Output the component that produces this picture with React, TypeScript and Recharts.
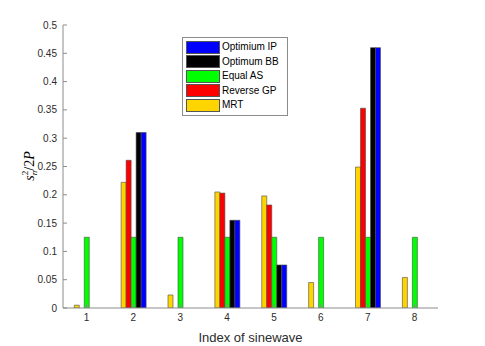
import { BarChart, Bar, XAxis, YAxis } from 'recharts';

const categories = ['1', '2', '3', '4', '5', '6', '7', '8'];
const mrt       = [0.005, 0.222, 0.023, 0.205, 0.198, 0.045, 0.249, 0.054];
const reverseGP = [0, 0.261, 0, 0.203, 0.182, 0, 0.353, 0];
const equalAS   = [0.125, 0.125, 0.125, 0.125, 0.125, 0.125, 0.125, 0.125];
const optimumBB = [0, 0.31, 0, 0.155, 0.076, 0, 0.46, 0];
const optimumIP = [0, 0.31, 0, 0.155, 0.076, 0, 0.46, 0];
const yTicks = [0, 0.05, 0.1, 0.15, 0.2, 0.25, 0.3, 0.35, 0.4, 0.45, 0.5];

const series = [
  { key: 'mrt', name: 'MRT', color: '#ffd500', values: mrt },
  { key: 'rgp', name: 'Reverse GP', color: '#ff0000', values: reverseGP },
  { key: 'eas', name: 'Equal AS', color: '#00ff00', values: equalAS },
  { key: 'bb', name: 'Optimum BB', color: '#000000', values: optimumBB },
  { key: 'ip', name: 'Optimium IP', color: '#0000ff', values: optimumIP },
];

const data = categories.map((c, i) => {
  const row: Record<string, string | number> = { name: c };
  series.forEach((s) => { row[s.key] = s.values[i]; });
  return row;
});

const AXIS = '#8c8c8c';
const TEXT = '#2b2b2b';
const FONT = '"Liberation Sans", Arial, Helvetica, sans-serif';

// legend sits inside the axes, top-left-ish, like the matlab one
function LegendBox() {
  const items = [...series].reverse();
  return (
    <div
      style={{
        position: 'absolute',
        left: 182,
        top: 37,
        border: '1px solid #8c8c8c',
        background: '#fff',
        padding: '2px 8px 2px 3px',
        fontFamily: FONT,
        fontSize: 10,
        color: '#000',
        lineHeight: '14.5px',
      }}
    >
      {items.map((s) => (
        <div key={s.key} style={{ display: 'flex', alignItems: 'center' }}>
          <span
            style={{
              display: 'inline-block',
              width: 32,
              height: 11,
              background: s.color,
              border: '1px solid #555',
              marginRight: 2,
            }}
          />
          <span>{s.name}</span>
        </div>
      ))}
    </div>
  );
}

function YLabel() {
  return (
    <text
      transform="translate(34,166) rotate(-90)"
      textAnchor="middle"
      fontFamily='"Liberation Serif", "DejaVu Serif", serif'
      fontSize={14}
      fill="#000"
    >
      <tspan fontStyle="italic">s</tspan>
      <tspan fontSize={9} dy={-6}>2</tspan>
      <tspan fontSize={9} fontStyle="italic" dx={-4.5} dy={9}>n</tspan>
      <tspan dy={-3}>/2</tspan>
      <tspan fontStyle="italic">P</tspan>
    </text>
  );
}

const fmt = (v: number) => (v === 0 ? '0' : String(Number(v.toFixed(2))));

export default function App() {
  return (
    <div style={{ position: 'absolute', left: 0, top: 0, width: 485, height: 346, background: '#fff' }}>
      <BarChart
        width={485}
        height={346}
        data={data}
        margin={{ top: 25, right: 47, bottom: 18, left: 0 }}
        barCategoryGap="24%"
        barGap={0}
      >
        <XAxis
          dataKey="name"
          height={20}
          stroke={AXIS}
          tickSize={-4}
          tickMargin={10}
          tick={{ fill: TEXT, fontSize: 10, fontFamily: FONT }}
          label={{
            value: 'Index of sinewave',
            position: 'insideBottom',
            offset: -14,
            fill: TEXT,
            fontSize: 13,
            fontFamily: FONT,
          }}
        />
        <XAxis
          xAxisId="top"
          dataKey="name"
          orientation="top"
          height={0}
          stroke={AXIS}
          tickSize={-4}
          tick={() => <g />}
        />
        <YAxis
          width={63}
          domain={[0, 0.5]}
          ticks={yTicks}
          allowDataOverflow
          stroke={AXIS}
          tickSize={-4}
          tickMargin={10}
          tickFormatter={fmt}
          tick={{ fill: TEXT, fontSize: 10, fontFamily: FONT }}
          label={{ content: () => <YLabel /> }}
        />
        <YAxis
          yAxisId="right"
          orientation="right"
          width={0}
          domain={[0, 0.5]}
          ticks={yTicks}
          stroke={AXIS}
          tickSize={-4}
          tick={() => <g />}
        />
        {series.map((s) => (
          <Bar
            key={s.key}
            dataKey={s.key}
            name={s.name}
            fill={s.color}
            stroke="#4a4a4a"
            strokeWidth={0.6}
            isAnimationActive={false}
          />
        ))}
      </BarChart>
      <LegendBox />
    </div>
  );
}
